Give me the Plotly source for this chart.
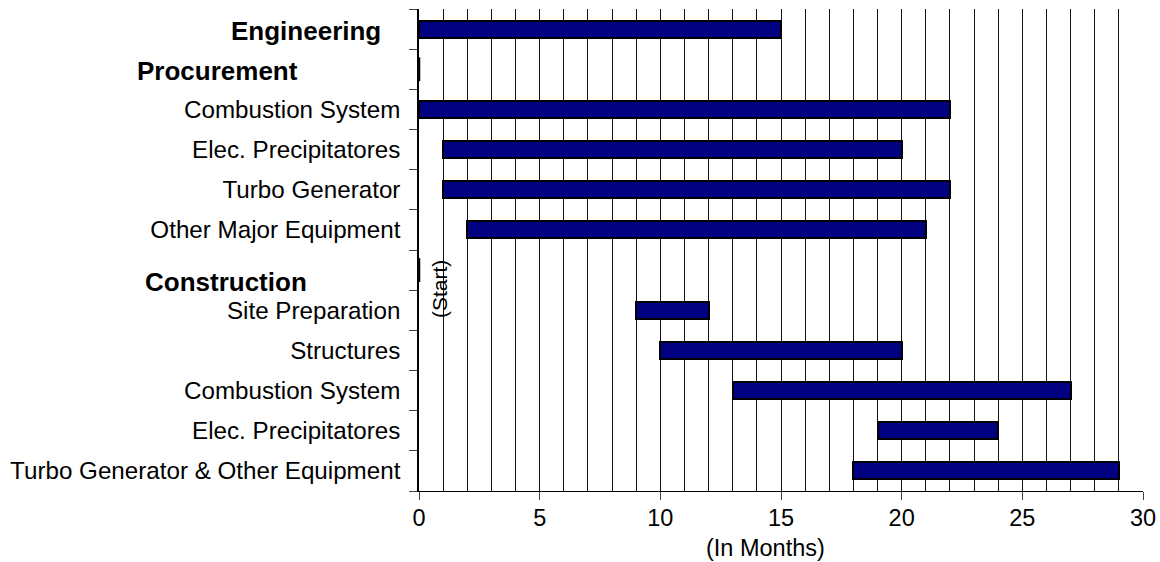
import plotly.graph_objects as go

# Project schedule rows (top to bottom); headers carry no bar length
tasks = [
    "Engineering",
    "Procurement",
    "Combustion System",
    "Elec. Precipitatores",
    "Turbo Generator",
    "Other Major Equipment",
    "Construction",
    "Site Preparation",
    "Structures",
    "Combustion System",
    "Elec. Precipitatores",
    "Turbo Generator & Other Equipment",
]
header_rows = [0, 1, 6]
start_month = [0, 0, 0, 1, 1, 2, 0, 9, 10, 13, 19, 18]
end_month = [15, 0, 22, 20, 22, 21, 0, 12, 20, 27, 24, 29]
x_ticks = [0, 5, 10, 15, 20, 25, 30]

rows = list(range(len(tasks)))
durations = [e - s for s, e in zip(start_month, end_month)]
FONT = "Arial, Liberation Sans, sans-serif"

fig = go.Figure()

fig.add_trace(go.Bar(
    orientation="h",
    y=rows,
    x=durations,
    base=start_month,
    width=0.42,
    marker=dict(color="#000080", line=dict(color="#000000", width=2)),
    showlegend=False,
    hoverinfo="skip",
))

# Zero-length milestones drawn as short vertical ticks at their start month
zero_rows = [r for r, d in zip(rows, durations) if d == 0]
fig.add_trace(go.Scatter(
    x=[start_month[r] for r in zero_rows],
    y=zero_rows,
    mode="markers",
    marker=dict(symbol="line-ns", size=17, line=dict(color="#000000", width=2.5)),
    showlegend=False,
    hoverinfo="skip",
    cliponaxis=False,
))

# Normal rows get axis tick labels; section headers are placed as bold text
ticktext = ["" if r in header_rows else t for r, t in enumerate(tasks)]

fig.update_layout(
    width=1160,
    height=562,
    margin=dict(l=419, r=17, t=9, b=71),
    plot_bgcolor="white",
    paper_bgcolor="white",
    font=dict(family=FONT, size=23.5, color="#000000"),
    bargap=0,
    xaxis=dict(
        range=[0, 30],
        tickmode="array",
        tickvals=x_ticks,
        ticks="outside",
        ticklen=8,
        tickcolor="#444444",
        tickwidth=1,
        showline=True,
        linecolor="#000000",
        linewidth=1,
        showgrid=True,
        gridcolor="#111111",
        gridwidth=1,
        zeroline=False,
        minor=dict(tickmode="linear", tick0=0, dtick=1, showgrid=True,
                   gridcolor="#111111", gridwidth=1, ticks=""),
        tickfont=dict(size=23.5),
        ticklabelstandoff=-2,
        automargin=False,
    ),
    yaxis=dict(
        range=[len(tasks) - 0.5, -0.5],
        tickmode="array",
        tickvals=rows,
        ticktext=ticktext,
        ticks="",
        showline=True,
        linecolor="#000000",
        linewidth=1.5,
        showgrid=False,
        zeroline=False,
        minor=dict(tickmode="linear", tick0=-0.5, dtick=1, ticks="outside",
                   ticklen=8, tickcolor="#444444", tickwidth=1, showgrid=False),
        tickfont=dict(size=24.2),
        automargin=False,
        ticklabelstandoff=12,
    ),
)

# Axis title
fig.add_annotation(text="(In Months)", xref="paper", yref="paper",
                   x=0.479, y=-0.118, xanchor="center", yanchor="middle",
                   showarrow=False, font=dict(size=23.5, family=FONT))

# Section headers
fig.add_annotation(text="<b>" + tasks[0] + "</b>", xref="paper", yref="paper",
                   x=-0.0502, y=0.955, xanchor="right", yanchor="middle",
                   showarrow=False, font=dict(size=26, family=FONT))
fig.add_annotation(text="<b>" + tasks[1] + "</b>", xref="paper", yref="paper",
                   x=-0.3928, y=0.871, xanchor="left", yanchor="middle",
                   showarrow=False, font=dict(size=26, family=FONT))
fig.add_annotation(text="<b>" + tasks[6] + "</b>", xref="paper", yref="paper",
                   x=-0.3819, y=0.4334, xanchor="left", yanchor="middle",
                   showarrow=False, font=dict(size=26, family=FONT))

# Project start marker
fig.add_annotation(text="(Start)", xref="x", yref="y", x=0.86, y=6.48,
                   textangle=-90, showarrow=False, font=dict(size=21, family=FONT))

fig.write_html("out.html")
